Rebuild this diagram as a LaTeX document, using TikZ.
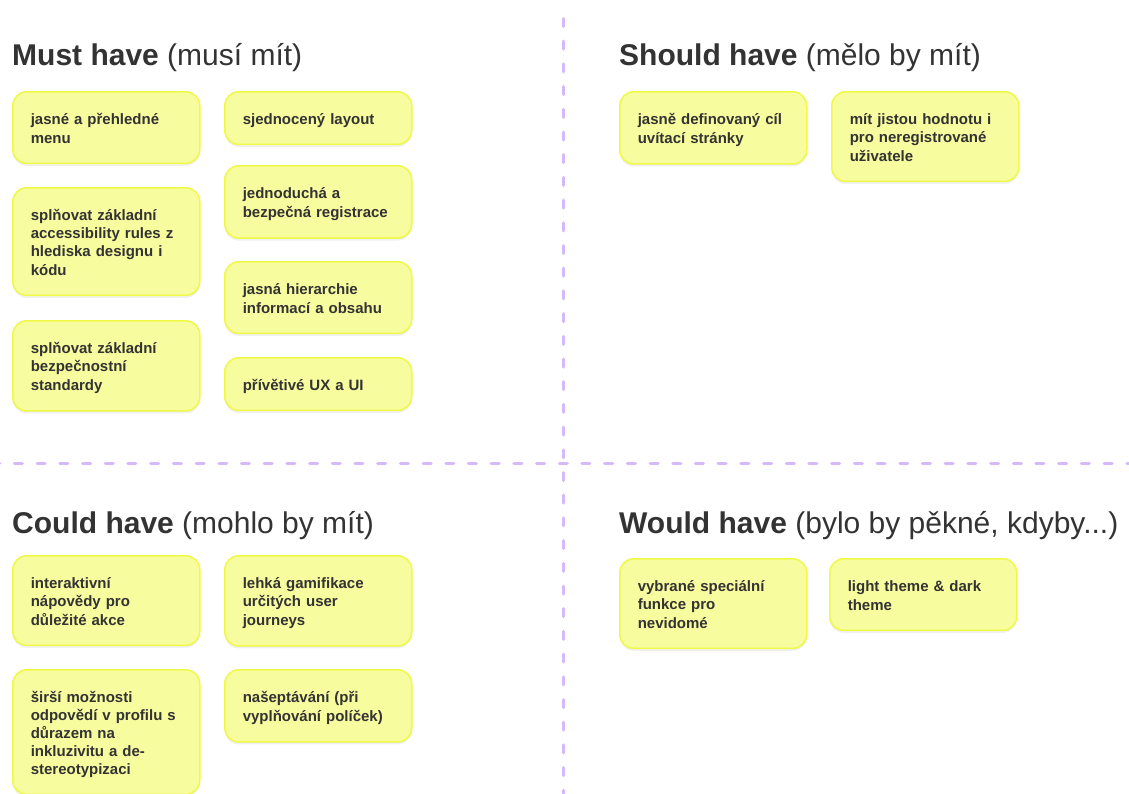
\documentclass[tikz,border=0pt]{standalone}
\usepackage{fontspec}
\setmainfont{Liberation Sans}
\usetikzlibrary{shadows}

\definecolor{notefill}{RGB}{247,252,158}
\definecolor{noteedge}{RGB}{238,250,70}
\definecolor{divider}{RGB}{212,186,252}
\definecolor{ink}{HTML}{333333}

\newcommand{\notestrut}{\rule[-2.5pt]{0pt}{18pt}}

\begin{document}
\begin{tikzpicture}[x=1pt,y=-1pt]

	\tikzstyle divider lines=[draw=divider, line width=3pt, line cap=round, dash pattern=on 8pt off 14.7pt];
	\tikzstyle heading=[anchor=base west, inner sep=0pt, text=ink, font=\fontsize{30}{35}\selectfont];
	\tikzstyle sticky=[anchor=north west, rounded corners=14pt, fill=notefill, draw=noteedge, line width=1.5pt,
		drop shadow={shadow xshift=0pt, shadow yshift=-2.5pt, opacity=0.06, fill=black},
		text width=151pt, inner xsep=18pt, inner ysep=17pt, align=left, text=ink,
		font=\bfseries\fontsize{15}{18}\selectfont,
		execute at begin node=\notestrut, execute at end node=\notestrut];

	\fill[white] (0,0) rectangle (1129,793);
	\useasboundingbox (0,0) rectangle (1129,793);

	% quadrant dividers
	\draw[divider lines] (563,18.5) -- (563,800);
	\draw[divider lines] (-8.25,463) -- (1140,463);

	% headings
	\node[heading] (musttitle) at (12,65) {\textbf{Must have} (musí mít)};
	\node[heading] (shouldtitle) at (619,65) {\textbf{Should have} (mělo by mít)};
	\node[heading] (couldtitle) at (12,533) {\textbf{Could have} (mohlo by mít)};
	\node[heading] (wouldtitle) at (619,533) {\textbf{Would have} (bylo by pěkné, kdyby...)};

	% must have
	\foreach \n/\x/\y/\txt in {1/12/91/{jasné a přehledné\\menu},
			2/224/91/{sjednocený layout},
			3/224/165/{jednoduchá a\\bezpečná registrace},
			4/12/187/{splňovat základní\\accessibility rules z\\hlediska designu i\\kódu},
			5/224/261/{jasná hierarchie\\informací a obsahu},
			6/12/320/{splňovat základní\\bezpečnostní\\standardy},
			7/224/357/{přívětivé UX a UI}}
		\node[sticky] (must\n) at (\x,\y) {\txt};

	% should have
	\foreach \n/\x/\y/\txt in {1/619/91/{jasně definovaný cíl\\uvítací stránky},
			2/831/91/{mít jistou hodnotu i\\pro neregistrované\\uživatele}}
		\node[sticky] (should\n) at (\x,\y) {\txt};

	% could have
	\foreach \n/\x/\y/\txt in {1/12/555/{interaktivní\\nápovědy pro\\důležité akce},
			2/224/555/{lehká gamifikace\\určitých user\\journeys},
			3/12/669/{širší možnosti\\odpovědí v profilu s\\důrazem na\\inkluzivitu a de-\\stereotypizaci},
			4/224/669/{našeptávání (při\\vyplňování políček)}}
		\node[sticky] (could\n) at (\x,\y) {\txt};

	% would have
	\foreach \n/\x/\y/\txt in {1/619/558/{vybrané speciální\\funkce pro\\nevidomé},
			2/829/558/{light theme \& dark\\theme}}
		\node[sticky] (would\n) at (\x,\y) {\txt};

\end{tikzpicture}
\end{document}
